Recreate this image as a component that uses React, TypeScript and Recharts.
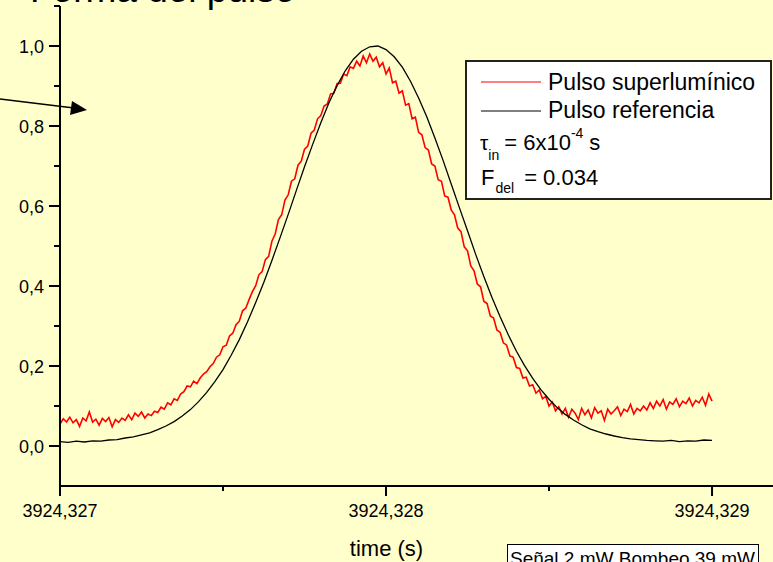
import { LineChart, Line, XAxis, YAxis, Legend } from 'recharts';

const FONT = '"Liberation Sans", Arial, sans-serif';
const BG = '#FFFFCC';

// time axis: microseconds after 3924,327 s
const T0 = 3924.327;
const RED_STEP_US = 10;
const BLACK_STEP_US = 25;

const RED_NAME = 'Pulso superlumínico';
const BLACK_NAME = 'Pulso referencia';
const LEGEND_ORDER = [RED_NAME, BLACK_NAME];

// Pulso superluminico (red, noisy), one sample every 10 us from 0 to 2000 us
const RED = [
  0.055, 0.068, 0.060, 0.072, 0.058, 0.066, 0.049, 0.070, 0.063, 0.085, 0.060, 0.067, 0.052, 0.069, 0.061, 0.071, 0.048, 0.066, 0.059, 0.070, 0.064,
  0.078, 0.066, 0.082, 0.074, 0.085, 0.070, 0.080, 0.076, 0.087,
  0.084, 0.097, 0.092, 0.108, 0.103, 0.118, 0.114, 0.130, 0.136, 0.150,
  0.148, 0.162, 0.156, 0.170, 0.180, 0.186, 0.198, 0.206, 0.222, 0.228,
  0.248, 0.252, 0.275, 0.282, 0.303, 0.312, 0.338, 0.345, 0.366, 0.386,
  0.400, 0.428, 0.436, 0.466, 0.474, 0.512, 0.530, 0.566, 0.578, 0.615,
  0.628, 0.662, 0.668, 0.702, 0.712, 0.742, 0.750, 0.782, 0.790, 0.818,
  0.826, 0.850, 0.855, 0.880, 0.882, 0.906, 0.907, 0.930, 0.926, 0.948,
  0.944, 0.962, 0.950, 0.975, 0.958, 0.980, 0.962, 0.972, 0.948, 0.958,
  0.930, 0.945, 0.908, 0.912, 0.882, 0.888, 0.852, 0.856, 0.818, 0.822,
  0.784, 0.778, 0.746, 0.740, 0.705, 0.700, 0.666, 0.662, 0.625, 0.622,
  0.590, 0.578, 0.545, 0.536, 0.498, 0.488, 0.450, 0.438, 0.405, 0.398,
  0.362, 0.356, 0.325, 0.320, 0.290, 0.284, 0.258, 0.252, 0.225, 0.222,
  0.196, 0.194, 0.170, 0.172, 0.150, 0.153, 0.132, 0.140, 0.118, 0.124,
  0.100, 0.110, 0.088, 0.098, 0.080, 0.094, 0.072, 0.092, 0.082, 0.066,
  0.094, 0.078, 0.090, 0.070, 0.096, 0.082, 0.088, 0.064, 0.092, 0.080,
  0.088, 0.098, 0.076, 0.092, 0.086, 0.104, 0.080, 0.094, 0.088, 0.100,
  0.090, 0.108, 0.094, 0.112, 0.100, 0.116, 0.092, 0.110, 0.104, 0.118,
  0.098, 0.112, 0.106, 0.120, 0.100, 0.114, 0.108, 0.122, 0.102, 0.130, 0.112,
];

// Pulso referencia (black), one sample every 25 us from 0 to 2000 us
const BLACK = [
  0.011, 0.009, 0.012, 0.010, 0.013, 0.012, 0.015, 0.016, 0.020, 0.023,
  0.028, 0.033, 0.041, 0.050, 0.061, 0.075, 0.091, 0.111, 0.134, 0.161,
  0.191, 0.227, 0.266, 0.310, 0.358, 0.409, 0.464, 0.521, 0.579, 0.639,
  0.698, 0.754, 0.808, 0.858, 0.901, 0.938, 0.967, 0.987, 0.998, 1.000,
  0.991, 0.973, 0.947, 0.912, 0.870, 0.823, 0.770, 0.714, 0.655, 0.596,
  0.538, 0.479, 0.424, 0.371, 0.323, 0.278, 0.237, 0.201, 0.169, 0.141,
  0.117, 0.096, 0.079, 0.065, 0.053, 0.043, 0.036, 0.030, 0.025, 0.021,
  0.018, 0.016, 0.014, 0.013, 0.012, 0.014, 0.011, 0.013, 0.012, 0.015,
  0.014,
];

const X_TICKS = [0, 500, 1000, 1500, 2000];
const Y_TICKS = [0, 0.1, 0.2, 0.3, 0.4, 0.5, 0.6, 0.7, 0.8, 0.9, 1.0, 1.1];

const redData = RED.map((v, i) => ({ t: i * RED_STEP_US, v }));
const blackData = BLACK.map((v, i) => ({ t: i * BLACK_STEP_US, v }));

const XTick = ({ x, y, payload }: any) => {
  const major = payload.value % 1000 === 0;
  const label = (T0 + payload.value / 1e6).toFixed(3).replace('.', ',');
  return (
    <g>
      <line x1={x} x2={x} y1={y} y2={y + (major ? 10 : 5)} stroke="#000" strokeWidth={2} />
      {major && (
        <text x={x} y={y + 31} textAnchor="middle" fontSize={18} fontFamily={FONT} fill="#000">
          {label}
        </text>
      )}
    </g>
  );
};

const YTick = ({ x, y, payload }: any) => {
  const major = Math.round(payload.value * 10) % 2 === 0;
  return (
    <g>
      <line x1={x - (major ? 11 : 6)} x2={x} y1={y} y2={y} stroke="#000" strokeWidth={2} />
      {major && (
        <text x={x - 16} y={y + 6.5} textAnchor="end" fontSize={18} fontFamily={FONT} fill="#000">
          {payload.value.toFixed(1).replace('.', ',')}
        </text>
      )}
    </g>
  );
};

const LegendBox = ({ payload }: any) => {
  const items = [...(payload || [])].sort(
    (a: any, b: any) => LEGEND_ORDER.indexOf(a.value) - LEGEND_ORDER.indexOf(b.value)
  );
  return (
    <svg width={307} height={140} style={{ display: 'block' }}>
      <rect x={1} y={1} width={305} height={138} fill="#fff" stroke="#222" strokeWidth={2} />
      {items.map((p: any, i: number) => (
        <g key={p.value}>
          <line x1={16} x2={76} y1={22 + i * 29} y2={22 + i * 29} stroke={p.color} strokeWidth={1} />
          <text x={83} y={30 + i * 28} fontSize={23} fontFamily={FONT} fill="#000">
            {p.value}
          </text>
        </g>
      ))}
      <g fontFamily={FONT} fill="#000">
        <text x={15} y={90} fontSize={21}>
          τ
          <tspan fontSize={14} dy={10}>in</tspan>
          <tspan fontSize={22} dy={-10} dx={5}>= 6x10</tspan>
          <tspan fontSize={14} dy={-12}>-4</tspan>
          <tspan fontSize={22} dy={12} dx={6}>s</tspan>
        </text>
        <text x={16} y={125} fontSize={22}>
          F
          <tspan fontSize={14} dy={8} dx={1}>del</tspan>
          <tspan fontSize={22} dy={-8} dx={10}>= 0.034</tspan>
        </text>
      </g>
    </svg>
  );
};

export default function App() {
  return (
    <div style={{ position: 'absolute', left: 0, top: 0, width: 773, height: 562, background: BG, overflow: 'hidden' }}>
      <LineChart width={773} height={562} margin={{ top: 6, right: 0, bottom: 0, left: 0 }}>
        <XAxis
          type="number"
          dataKey="t"
          domain={[0, 2187]}
          ticks={X_TICKS}
          interval={0}
          height={76}
          tickSize={0}
          tickMargin={0}
          tickLine={false}
          tick={XTick}
          axisLine={{ stroke: '#000', strokeWidth: 2 }}
          allowDataOverflow
          label={{ value: 'time (s)', position: 'insideBottom', offset: 6, dx: -30, fill: '#000', fontSize: 22, fontFamily: FONT }}
        />
        <YAxis
          type="number"
          domain={[-0.1, 1.1]}
          ticks={Y_TICKS}
          interval={0}
          width={60}
          tickSize={0}
          tickMargin={0}
          tickLine={false}
          tick={YTick}
          axisLine={{ stroke: '#000', strokeWidth: 2 }}
          allowDataOverflow
        />
        <Legend
          layout="horizontal"
          verticalAlign="middle"
          align="center"
          content={LegendBox}
          wrapperStyle={{ left: 465, top: 60, width: 307, height: 140 }}
        />
        <Line
          data={redData}
          dataKey="v"
          name={RED_NAME}
          type="linear"
          stroke="#FF0000"
          strokeWidth={1.6}
          dot={false}
          isAnimationActive={false}
        />
        <Line
          data={blackData}
          dataKey="v"
          name={BLACK_NAME}
          type="linear"
          stroke="#000000"
          strokeWidth={1.3}
          dot={false}
          isAnimationActive={false}
        />
      </LineChart>
      {/* leftovers of the slide: cut title, arrow and the caption box */}
      <svg width={773} height={562} style={{ position: 'absolute', left: 0, top: 0, pointerEvents: 'none' }}>
        <text x={30} y={1.5} fontSize={37} fontFamily={FONT} fill="#000">Forma del pulso</text>
        <line x1={0} y1={99} x2={74} y2={108} stroke="#000" strokeWidth={1.5} />
        <polygon points="87,110 72,101 70,115" fill="#000" />
        <rect x={507.5} y={544.5} width={251} height={30} fill="#fff" stroke="#000" strokeWidth={1} />
        <text x={510} y={565} fontSize={19} fontFamily={FONT} fill="#000">Señal 2 mW Bombeo 39 mW</text>
      </svg>
    </div>
  );
}
